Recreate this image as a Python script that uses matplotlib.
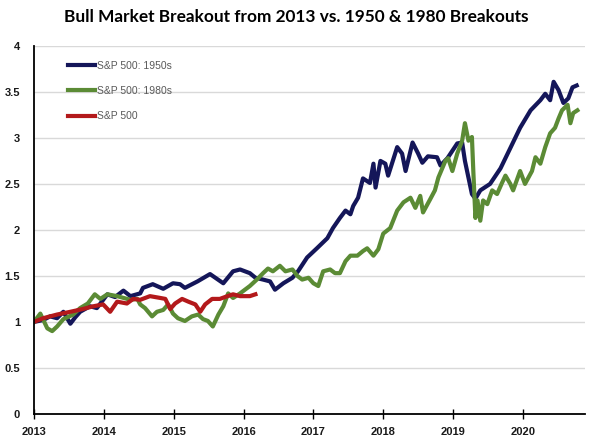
import numpy as np
import matplotlib
matplotlib.use("Agg")
import matplotlib.pyplot as plt

# values (x in decimal years, y = growth multiple)
years_1950s = [2013.0, 2013.13, 2013.23, 2013.33, 2013.42, 2013.52, 2013.59, 2013.66, 2013.80, 2013.90,
               2014.05, 2014.16, 2014.28, 2014.38, 2014.52, 2014.56, 2014.70, 2014.85, 2014.99, 2015.09,
               2015.16, 2015.34, 2015.52, 2015.71, 2015.85, 2015.95, 2016.09, 2016.17, 2016.28, 2016.38,
               2016.45, 2016.57, 2016.70, 2016.78, 2016.91, 2017.05, 2017.20, 2017.28, 2017.38, 2017.46,
               2017.53, 2017.57, 2017.64, 2017.71, 2017.81, 2017.86, 2017.89, 2017.96, 2018.03, 2018.07,
               2018.20, 2018.27, 2018.32, 2018.42, 2018.50, 2018.56, 2018.64, 2018.77, 2018.82, 2018.92,
               2019.06, 2019.13, 2019.17, 2019.27, 2019.32, 2019.39, 2019.53, 2019.68, 2019.82, 2019.96,
               2020.11, 2020.25, 2020.32, 2020.39, 2020.44, 2020.51, 2020.58, 2020.65, 2020.71, 2020.77]
sp_1950s = [1.00, 1.02, 1.06, 1.04, 1.11, 0.98, 1.05, 1.11, 1.17, 1.15,
            1.30, 1.27, 1.34, 1.28, 1.31, 1.37, 1.41, 1.36, 1.42, 1.41,
            1.37, 1.44, 1.52, 1.42, 1.55, 1.57, 1.53, 1.48, 1.46, 1.44,
            1.35, 1.42, 1.48, 1.55, 1.70, 1.80, 1.91, 2.02, 2.13, 2.21,
            2.17, 2.26, 2.35, 2.56, 2.51, 2.72, 2.46, 2.75, 2.72, 2.59,
            2.90, 2.83, 2.64, 2.95, 2.83, 2.73, 2.80, 2.79, 2.70, 2.78,
            2.94, 2.95, 2.75, 2.39, 2.34, 2.43, 2.50, 2.67, 2.89, 3.11,
            3.30, 3.41, 3.48, 3.41, 3.61, 3.52, 3.38, 3.43, 3.55, 3.57]

years_1980s = [2013.0, 2013.09, 2013.19, 2013.26, 2013.33, 2013.42, 2013.56, 2013.66, 2013.77, 2013.87,
               2013.95, 2014.05, 2014.19, 2014.38, 2014.48, 2014.52, 2014.59, 2014.69, 2014.76, 2014.85,
               2014.92, 2014.99, 2015.06, 2015.16, 2015.26, 2015.35, 2015.42, 2015.49, 2015.56, 2015.64,
               2015.71, 2015.78, 2015.85, 2015.95, 2016.09, 2016.19, 2016.28, 2016.35, 2016.42, 2016.52,
               2016.60, 2016.70, 2016.77, 2016.84, 2016.93, 2017.00, 2017.07, 2017.14, 2017.24, 2017.31,
               2017.38, 2017.46, 2017.53, 2017.63, 2017.71, 2017.77, 2017.86, 2017.93, 2018.00, 2018.10,
               2018.20, 2018.29, 2018.39, 2018.46, 2018.53, 2018.57, 2018.67, 2018.74, 2018.79, 2018.89,
               2018.93, 2018.99, 2019.06, 2019.13, 2019.17, 2019.22, 2019.27, 2019.29, 2019.32, 2019.35,
               2019.39, 2019.43, 2019.49, 2019.56, 2019.63, 2019.70, 2019.75, 2019.82, 2019.86, 2019.96,
               2020.03, 2020.13, 2020.18, 2020.25, 2020.32, 2020.39, 2020.46, 2020.51, 2020.56, 2020.64,
               2020.68, 2020.72, 2020.78]
sp_1980s = [1.00, 1.09, 0.93, 0.90, 0.95, 1.03, 1.08, 1.15, 1.20, 1.30,
            1.25, 1.30, 1.28, 1.24, 1.25, 1.19, 1.15, 1.06, 1.11, 1.13,
            1.19, 1.09, 1.04, 1.01, 1.06, 1.08, 1.03, 1.01, 0.95, 1.08,
            1.17, 1.31, 1.26, 1.31, 1.39, 1.46, 1.53, 1.58, 1.55, 1.61,
            1.55, 1.57, 1.50, 1.46, 1.48, 1.42, 1.39, 1.55, 1.57, 1.53,
            1.53, 1.66, 1.72, 1.72, 1.77, 1.80, 1.72, 1.79, 1.96, 2.02,
            2.21, 2.30, 2.35, 2.24, 2.37, 2.19, 2.33, 2.43, 2.57, 2.75,
            2.78, 2.64, 2.83, 2.97, 3.16, 2.97, 3.01, 2.64, 2.13, 2.32,
            2.10, 2.32, 2.28, 2.43, 2.39, 2.51, 2.59, 2.50, 2.43, 2.64,
            2.50, 2.64, 2.79, 2.72, 2.90, 3.05, 3.11, 3.21, 3.30, 3.36,
            3.16, 3.27, 3.30]

years_sp = [2013.0, 2013.13, 2013.33, 2013.52, 2013.70, 2013.85, 2013.99, 2014.09, 2014.19, 2014.33,
            2014.42, 2014.52, 2014.66, 2014.81, 2014.88, 2014.95, 2015.02, 2015.12, 2015.21, 2015.31,
            2015.38, 2015.45, 2015.55, 2015.66, 2015.77, 2015.85, 2015.95, 2016.09, 2016.17]
sp_now = [1.00, 1.04, 1.08, 1.11, 1.14, 1.17, 1.19, 1.11, 1.22, 1.20,
          1.25, 1.24, 1.28, 1.26, 1.25, 1.14, 1.20, 1.25, 1.22, 1.19,
          1.11, 1.19, 1.25, 1.25, 1.28, 1.30, 1.28, 1.28, 1.30]

year_ticks = [2013, 2014, 2015, 2016, 2017, 2018, 2019, 2020]
value_ticks = [0, 0.5, 1, 1.5, 2, 2.5, 3, 3.5, 4]

fig = plt.figure(figsize=(5.97, 4.46), dpi=100)
ax = fig.add_axes([0.057, 0.072, 0.923, 0.825])

ax.plot(years_1950s, sp_1950s, color="#141659", lw=3, label="S&P 500: 1950s")
ax.plot(years_1980s, sp_1980s, color="#5b8b35", lw=3, label="S&P 500: 1980s")
ax.plot(years_sp, sp_now, color="#b3191b", lw=3, label="S&P 500")

ax.set_xlim(2013, 2020.89)
ax.set_ylim(0, 4)
ax.set_xticks(year_ticks)
ax.set_xticklabels([str(y) for y in year_ticks])
ax.set_yticks(value_ticks)
ax.set_yticklabels([f"{v:g}" for v in value_ticks])

ax.grid(axis="y", color="#d9d9d9", lw=1)
ax.set_axisbelow(True)
for side in ["top", "right"]:
    ax.spines[side].set_visible(False)
ax.spines["left"].set_linewidth(1.3)
ax.spines["bottom"].set_linewidth(1.3)

ax.tick_params(axis="x", direction="inout", length=7, width=1, pad=6)
ax.tick_params(axis="y", length=0, pad=10)
for lab in ax.get_xticklabels() + ax.get_yticklabels():
    lab.set_fontfamily("Liberation Sans")
    lab.set_fontweight("bold")
    lab.set_fontsize(8)
    lab.set_color("#1a1a1a")

leg = ax.legend(loc="upper left", bbox_to_anchor=(68 / 597, 1 - 61 / 446),
                bbox_transform=fig.transFigure, frameon=False, borderpad=0,
                borderaxespad=0, handlelength=2.6, handletextpad=0.15,
                labelspacing=1.45, prop={"family": "Liberation Sans", "size": 7.5})
for t in leg.get_texts():
    t.set_color("#595959")
for h in leg.get_lines():
    h.set_linewidth(3)

fig.text(0.497, 1 - 17 / 446, "Bull Market Breakout from 2013 vs. 1950 & 1980 Breakouts",
         ha="center", va="center", fontsize=12.4, fontweight="bold", family="Lato")

fig.savefig("out.png", dpi=100)
